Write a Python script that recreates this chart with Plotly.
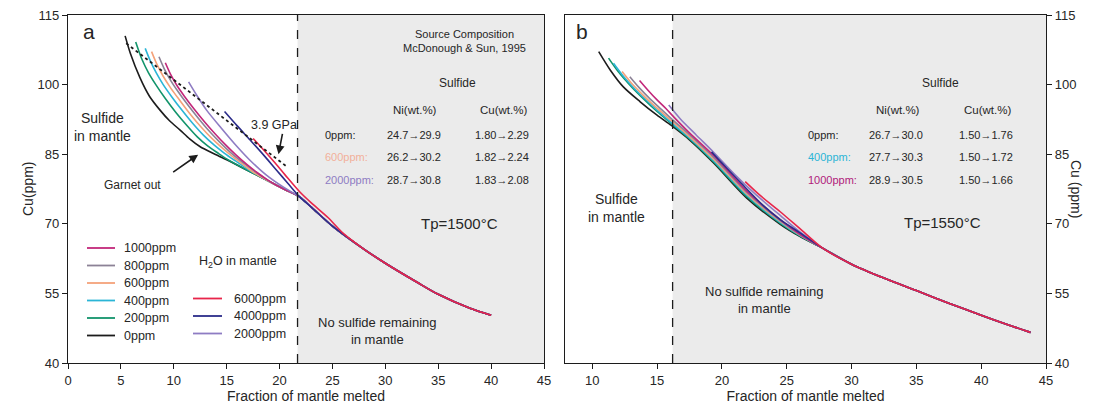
import plotly.graph_objects as go

# ---------------- Panel a data (Tp = 1500 C) ----------------
a_tail_x = [21.9, 23.0, 25.0, 28.0, 30.0, 33.0, 35.0, 38.0, 40.0]
a_tail_y = [75.8, 73.6, 69.5, 64.5, 61.5, 57.4, 54.8, 51.8, 50.3]

a0_x = [5.4, 5.9, 6.8, 7.7, 8.7, 9.6, 10.6, 11.5, 12.5, 13.7, 15.0, 16.9, 18.8, 20.5]
a0_y = [110.5, 106.7, 101.5, 97.5, 94.5, 92.2, 90.2, 88.3, 86.6, 85.2, 83.8, 81.6, 79.4, 77.4]
a200_x = [6.4, 7.0, 7.6, 8.3, 9.2, 10.2, 11.2, 12.2, 13.2, 14.2, 15.2, 16.9, 18.8, 20.5]
a200_y = [109.2, 105.4, 102.6, 100.0, 97.0, 94.0, 91.3, 88.8, 86.8, 85.2, 83.7, 81.6, 79.4, 77.4]
a400_x = [7.3, 7.8, 8.4, 9.0, 9.8, 10.8, 11.8, 12.8, 13.8, 14.8, 15.8, 16.9, 18.8, 20.5]
a400_y = [107.8, 105.0, 102.3, 100.0, 97.4, 94.4, 91.6, 89.1, 87.0, 85.2, 83.6, 81.9, 79.4, 77.4]
a600_x = [7.9, 8.4, 9.0, 9.7, 10.6, 11.6, 12.6, 13.6, 14.6, 15.6, 16.6, 17.6, 18.8, 20.5]
a600_y = [107.1, 104.4, 101.8, 99.3, 96.5, 93.5, 90.8, 88.4, 86.3, 84.4, 82.7, 81.0, 79.4, 77.4]
a800_x = [8.6, 9.1, 9.7, 10.4, 11.3, 12.3, 13.3, 14.3, 15.3, 16.3, 17.3, 18.3, 19.3, 20.5]
a800_y = [106.0, 103.4, 100.9, 98.5, 95.7, 92.8, 90.1, 87.7, 85.5, 83.6, 81.9, 80.3, 78.8, 77.4]
a1000_x = [9.2, 9.7, 10.3, 11.0, 11.9, 12.9, 13.9, 14.9, 15.9, 16.9, 17.9, 18.9, 19.7, 20.5]
a1000_y = [104.7, 102.2, 99.8, 97.5, 94.8, 92.0, 89.4, 87.0, 84.8, 82.8, 81.0, 79.4, 78.3, 77.4]
a2000_x = [11.4, 12.2, 13.1, 14.5, 16.0, 17.2, 18.7, 20.3]
a2000_y = [100.6, 97.6, 94.5, 90.6, 86.6, 83.7, 80.6, 78.0]
a4000_x = [14.8, 16.0, 17.2, 18.5, 19.7, 20.8]
a4000_y = [94.2, 91.1, 88.1, 84.8, 81.6, 78.7]
a6000_x = [17.5, 18.5, 19.5, 20.5, 21.9, 23.0, 24.6, 26.0]
a6000_y = [88.4, 85.9, 83.3, 80.6, 76.9, 74.5, 71.3, 68.0]
a6000_tail_x = [28.0, 30.0, 33.0, 35.0, 38.0, 40.0]
a6000_tail_y = [64.5, 61.5, 57.4, 54.8, 51.8, 50.3]

gpa_x = [5.5, 20.7]
gpa_y = [108.9, 82.3]

# ---------------- Panel b data (Tp = 1550 C) ----------------
b_tail_x = [27.8, 30.0, 32.5, 35.0, 37.5, 40.0, 42.0, 43.8]
b_tail_y = [64.7, 61.3, 58.3, 55.6, 52.9, 50.3, 48.3, 46.6]

b0_x = [10.5, 11.4, 12.4, 13.7, 15.0, 16.1, 17.5, 19.4, 21.9, 24.5, 26.0]
b0_y = [107.1, 103.1, 99.5, 96.3, 93.4, 91.2, 88.1, 83.0, 75.6, 69.9, 67.3]
b200_x = [11.26, 12.0, 13.0, 14.0, 15.0, 16.1, 17.5, 19.4, 21.9, 24.5, 26.0]
b200_y = [105.7, 102.8, 99.6, 96.8, 94.2, 91.6, 88.3, 83.2, 75.9, 70.1, 67.4]
b400_x = [11.64, 12.4, 13.3, 14.3, 15.2, 16.1, 17.5, 19.4, 21.9, 24.5, 26.0]
b400_y = [104.6, 101.8, 99.0, 96.3, 94.0, 91.8, 88.5, 83.5, 76.2, 70.3, 67.5]
b600_x = [12.3, 13.0, 13.9, 14.8, 15.5, 16.2, 17.5, 19.4, 21.9, 24.5, 26.0]
b600_y = [102.8, 100.4, 97.8, 95.4, 93.7, 92.0, 88.8, 83.8, 76.5, 70.5, 67.6]
b800_x = [12.9, 13.6, 14.4, 15.2, 16.2, 17.5, 19.4, 21.9, 24.5, 26.0]
b800_y = [101.7, 99.4, 97.1, 95.0, 92.4, 89.2, 84.2, 76.8, 70.7, 67.7]
b1000_x = [13.65, 14.3, 15.0, 15.7, 16.3, 17.5, 19.4, 21.9, 24.5, 26.0]
b1000_y = [100.9, 98.8, 96.7, 94.8, 93.0, 89.6, 84.6, 77.1, 70.9, 67.8]
b2000_x = [15.9, 16.8, 18.0, 19.4, 21.0, 22.5, 24.5, 26.0]
b2000_y = [95.6, 92.6, 89.2, 85.3, 80.6, 76.6, 71.8, 68.3]
b4000_x = [19.2, 20.2, 21.5, 23.2, 24.5, 26.0]
b4000_y = [85.5, 82.5, 78.7, 73.9, 70.9, 68.1]
b6000_x = [21.8, 23.0, 24.5, 26.0]
b6000_y = [79.1, 76.0, 72.6, 69.0]

# ---------------- styling ----------------
labels = ["0ppm", "200ppm", "400ppm", "600ppm", "800ppm", "1000ppm",
          "2000ppm", "4000ppm", "6000ppm"]
colors = ["#1c1c1c", "#12946b", "#2bb5d6", "#f4a27a", "#8c8296", "#c2277a",
          "#8e7cc3", "#2b2c8a", "#e8254a"]

a_curves = [
    (a0_x + a_tail_x, a0_y + a_tail_y),
    (a200_x + a_tail_x, a200_y + a_tail_y),
    (a400_x + a_tail_x, a400_y + a_tail_y),
    (a600_x + a_tail_x, a600_y + a_tail_y),
    (a800_x + a_tail_x, a800_y + a_tail_y),
    (a1000_x + a_tail_x, a1000_y + a_tail_y),
    (a2000_x + a_tail_x, a2000_y + a_tail_y),
    (a4000_x + a_tail_x, a4000_y + a_tail_y),
    (a6000_x + a6000_tail_x, a6000_y + a6000_tail_y),
]
b_curves = [
    (b0_x + b_tail_x, b0_y + b_tail_y),
    (b200_x + b_tail_x, b200_y + b_tail_y),
    (b400_x + b_tail_x, b400_y + b_tail_y),
    (b600_x + b_tail_x, b600_y + b_tail_y),
    (b800_x + b_tail_x, b800_y + b_tail_y),
    (b1000_x + b_tail_x, b1000_y + b_tail_y),
    (b2000_x + b_tail_x, b2000_y + b_tail_y),
    (b4000_x + b_tail_x, b4000_y + b_tail_y),
    (b6000_x + b_tail_x, b6000_y + b_tail_y),
]

FONT = "Liberation Sans, Arial, sans-serif"
TXT = "#262626"
W, H = 1102, 411

fig = go.Figure()

for i, (xs, ys) in enumerate(a_curves):
    fig.add_trace(go.Scatter(
        x=xs, y=ys, mode="lines", name=labels[i], showlegend=False,
        line=dict(color=colors[i], width=1.6, shape="spline", smoothing=0.8),
        xaxis="x", yaxis="y"))

fig.add_trace(go.Scatter(x=gpa_x, y=gpa_y, mode="lines", showlegend=False,
                         line=dict(color="#1c1c1c", width=1.8, dash="dot"),
                         xaxis="x", yaxis="y"))

for i, (xs, ys) in enumerate(b_curves):
    fig.add_trace(go.Scatter(
        x=xs, y=ys, mode="lines", name=labels[i], showlegend=False,
        line=dict(color=colors[i], width=1.6, shape="spline", smoothing=0.8),
        xaxis="x2", yaxis="y2"))

dash_a = 21.7
dash_b = 16.2

shapes = [
    dict(type="rect", xref="x", yref="y", x0=dash_a, x1=45, y0=40, y1=115,
         fillcolor="#ebebeb", line=dict(width=0), layer="below"),
    dict(type="rect", xref="x2", yref="y2", x0=dash_b, x1=45, y0=40, y1=115,
         fillcolor="#ebebeb", line=dict(width=0), layer="below"),
    dict(type="line", xref="x", yref="y", x0=dash_a, x1=dash_a, y0=40, y1=115,
         line=dict(color="#1c1c1c", width=1.3, dash="dash")),
    dict(type="line", xref="x2", yref="y2", x0=dash_b, x1=dash_b, y0=40, y1=115,
         line=dict(color="#1c1c1c", width=1.3, dash="dash")),
]

ann = []
def T(x, y, text, size=12, ref="", xanchor="center", color=TXT, **kw):
    ann.append(dict(x=x, y=y, xref="x" + ref, yref="y" + ref, text=text,
                    showarrow=False, xanchor=xanchor, yanchor="middle",
                    font=dict(size=size, color=color, family=FONT), **kw))

# manual legend (key for the H2O contents)
legend_left = ["1000ppm", "800ppm", "600ppm", "400ppm", "200ppm", "0ppm"]
legend_left_rows = [248, 265.5, 283, 300.5, 318, 335.5]
legend_right = ["6000ppm", "4000ppm", "2000ppm"]
legend_right_rows = [298.5, 316, 333.5]
for lab, py in zip(legend_left, legend_left_rows):
    c = colors[labels.index(lab)]
    shapes.append(dict(type="line", xref="paper", yref="paper",
                       x0=87 / W, x1=115 / W, y0=1 - py / H, y1=1 - py / H,
                       line=dict(color=c, width=1.8)))
    ann.append(dict(x=122 / W, y=1 - py / H, xref="paper", yref="paper", text=lab,
                    showarrow=False, xanchor="left", yanchor="middle",
                    font=dict(size=12.5, color=TXT, family=FONT)))
for lab, py in zip(legend_right, legend_right_rows):
    c = colors[labels.index(lab)]
    shapes.append(dict(type="line", xref="paper", yref="paper",
                       x0=193 / W, x1=222 / W, y0=1 - py / H, y1=1 - py / H,
                       line=dict(color=c, width=1.8)))
    ann.append(dict(x=232 / W, y=1 - py / H, xref="paper", yref="paper", text=lab,
                    showarrow=False, xanchor="left", yanchor="middle",
                    font=dict(size=12.5, color=TXT, family=FONT)))

# panel a texts
T(1.2, 111.5, "a", size=21, xanchor="left")
T(3.3, 90.9, "Sulfide<br>in mantle", size=14)
T(6.05, 78.4, "Garnet out", size=12)
T(19.5, 91.2, "3.9 GPa", size=12.5)
T(12.2, 61.8, "H<sub>2</sub>O in mantle", size=12.5, xanchor="left")
T(29.3, 46.8, "No sulfide remaining<br>in mantle", size=13)
T(37.5, 111.0, "Source Composition", size=11)
T(37.5, 107.9, "McDonough &amp; Sun, 1995", size=11)
T(36.8, 100.3, "Sulfide", size=12)
T(32.8, 94.5, "Ni(wt.%)", size=11.5)
T(41.2, 94.5, "Cu(wt.%)", size=11.5)
rows_a = [("0ppm:", "24.7→29.9", "1.80→2.29", TXT),
          ("600ppm:", "26.2→30.2", "1.82→2.24", "#f2b09a"),
          ("2000ppm:", "28.7→30.8", "1.83→2.08", "#8e7cc3")]
for k, (lab, ni, cu, col) in enumerate(rows_a):
    yy = [89.1, 84.3, 79.4][k]
    T(24.1, yy, lab, size=11, xanchor="left", color=col)
    T(30.0, yy, ni, size=11, xanchor="left")
    T(38.3, yy, cu, size=11, xanchor="left")
T(37.0, 70.1, "Tp=1500°C", size=15)

# panel b texts
T(8.6, 111.5, "b", size=21, ref="2", xanchor="left")
T(11.85, 73.4, "Sulfide<br>in mantle", size=14, ref="2")
T(23.3, 53.6, "No sulfide remaining<br>in mantle", size=13, ref="2")
T(36.9, 100.3, "Sulfide", size=12, ref="2")
T(33.6, 94.5, "Ni(wt.%)", size=11.5, ref="2")
T(40.5, 94.5, "Cu(wt.%)", size=11.5, ref="2")
rows_b = [("0ppm:", "26.7→30.0", "1.50→1.76", TXT),
          ("400ppm:", "27.7→30.3", "1.50→1.72", "#2bb5d6"),
          ("1000ppm:", "28.9→30.5", "1.50→1.66", "#b0207a")]
for k, (lab, ni, cu, col) in enumerate(rows_b):
    yy = [89.1, 84.3, 79.4][k]
    T(26.5, yy, lab, size=11, ref="2", xanchor="left", color=col)
    T(31.2, yy, ni, size=11, ref="2", xanchor="left")
    T(38.1, yy, cu, size=11, ref="2", xanchor="left")
T(37.0, 70.2, "Tp=1550°C", size=15, ref="2")

# arrows
ann.append(dict(x=12.3, y=84.9, ax=9.8, ay=80.9, xref="x", yref="y", axref="x", ayref="y",
                showarrow=True, arrowhead=2, arrowsize=1.1, arrowwidth=1.6,
                arrowcolor="#1c1c1c", text=""))
ann.append(dict(x=19.9, y=85.0, ax=20.3, ay=89.7, xref="x", yref="y", axref="x", ayref="y",
                showarrow=True, arrowhead=2, arrowsize=1.1, arrowwidth=1.6,
                arrowcolor="#1c1c1c", text=""))

# axis titles (y) as annotations
ann.append(dict(x=18 / W, y=1 - 189 / H, xref="paper", yref="paper", text="Cu(ppm)",
                textangle=-90, showarrow=False, font=dict(size=14, color=TXT, family=FONT)))
ann.append(dict(x=1086 / W, y=1 - 189 / H, xref="paper", yref="paper", text="Cu (ppm)",
                textangle=90, showarrow=False, font=dict(size=14, color=TXT, family=FONT)))

axis_common = dict(showline=True, linecolor="#1c1c1c", linewidth=1.3, mirror=True,
                   ticks="outside", ticklen=5, tickwidth=1.2, tickcolor="#1c1c1c",
                   showgrid=False, zeroline=False, automargin=False,
                   tickfont=dict(size=13, color=TXT, family=FONT))

xa_dom = [68 / W, 544 / W]
xb_dom = [565 / W, 1046 / W]
y_dom = [1 - 363 / H, 1 - 15 / H]

fig.update_layout(
    width=W, height=H,
    margin=dict(l=0, r=0, t=0, b=0, autoexpand=False),
    paper_bgcolor="white", plot_bgcolor="white",
    font=dict(family=FONT, color=TXT),
    showlegend=False,
    xaxis=dict(domain=xa_dom, range=[0, 45], tickvals=[0, 5, 10, 15, 20, 25, 30, 35, 40, 45],
               title=dict(text="Fraction of mantle melted", font=dict(size=14, color=TXT), standoff=4),
               anchor="y", **axis_common),
    yaxis=dict(domain=y_dom, range=[40, 115], tickvals=[40, 55, 70, 85, 100, 115],
               anchor="x", **axis_common),
    xaxis2=dict(domain=xb_dom, range=[7.9, 45], tickvals=[10, 15, 20, 25, 30, 35, 40, 45],
                title=dict(text="Fraction of mantle melted", font=dict(size=14, color=TXT), standoff=4),
                anchor="y2", **axis_common),
    yaxis2=dict(domain=y_dom, range=[40, 115], tickvals=[40, 55, 70, 85, 100, 115],
                side="right", anchor="x2", **axis_common),
    shapes=shapes,
    annotations=ann,
)

fig.write_html("out.html", config={"displayModeBar": False},
               post_script="document.body.style.margin='0px';document.body.style.overflow='hidden';")
